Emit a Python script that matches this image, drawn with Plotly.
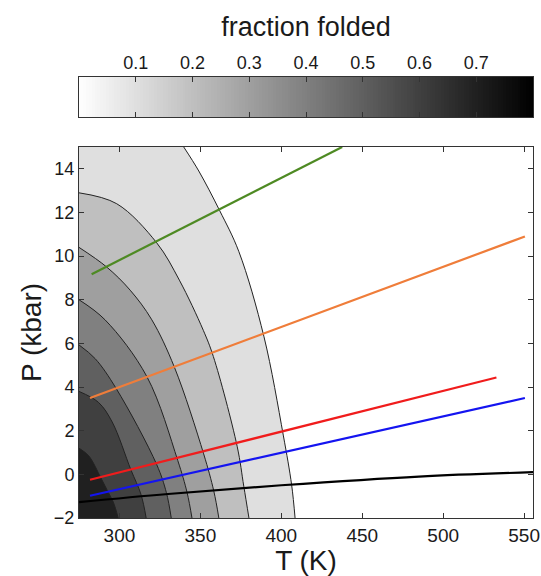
import numpy as np
import plotly.graph_objects as go

# ---- contour levels of the folded fraction and their traced lines (T in K, P in kbar)
levels = [0.1, 0.2, 0.3, 0.4, 0.5, 0.6, 0.7]

c01_T = [339.7, 349.0, 361.8, 373.8, 389.3, 401.2, 406.4, 408.5]
c01_P = [15.0, 13.9, 12.1, 10.2, 6.3, 1.8, -0.5, -2.0]

c02_T = [275.0, 298.3, 323.1, 337.0, 351.8, 358.0, 372.7, 376.8, 380.0]
c02_P = [12.9, 12.4, 10.6, 8.9, 6.6, 5.4, 1.29, -0.54, -2.0]

c03_T = [275.0, 292.1, 306.6, 320.0, 334.0, 352.0, 358.3, 361.4]
c03_P = [10.4, 9.5, 8.44, 7.08, 4.9, 0.94, -0.77, -2.0]

c04_T = [275.0, 291.1, 317.0, 336.0, 341.8, 344.8]
c04_P = [8.0, 7.08, 4.47, 0.64, -0.84, -2.0]

c05_T = [275.0, 285.0, 298.0, 323.0, 329.0, 332.0]
c05_P = [5.93, 5.3, 3.93, 0.45, -0.84, -2.0]

c06_T = [275.0, 287.0, 295.5, 307.0, 313.3, 316.5]
c06_P = [3.8, 3.3, 2.4, 0.22, -0.92, -2.0]

c07_T = [275.0, 281.0, 288.5, 293.2, 296.2, 299.2]
c07_P = [1.2, 0.85, -0.16, -0.84, -1.27, -2.0]

contours_T = [c01_T, c02_T, c03_T, c04_T, c05_T, c06_T, c07_T]
contours_P = [c01_P, c02_P, c03_P, c04_P, c05_P, c06_P, c07_P]

# ---- pressure paths
green_T = [282.8, 437.6]
green_P = [9.17, 15.0]
orange_T = [281.8, 550.5]
orange_P = [3.5, 10.9]
red_T = [281.8, 532.9]
red_P = [-0.25, 4.44]
blue_T = [281.8, 550.5]
blue_P = [-0.98, 3.5]
black_T = [275.0, 330.0, 400.0, 485.0, 555.5]
black_P = [-1.27, -0.9, -0.5, -0.1, 0.10]

# ---- axis ticks
t_ticks = [300, 350, 400, 450, 500, 550]
p_ticks = [-2, 0, 2, 4, 6, 8, 10, 12, 14]
cbar_ticks = [0.1, 0.2, 0.3, 0.4, 0.5, 0.6, 0.7]
cbar_max = 0.8

FONT = "Liberation Sans, Arial, Helvetica, sans-serif"


def shade(value):
    """Reversed gray colour map: 0 -> white, cbar_max -> black."""
    g = int(round(255 * (1 - value / cbar_max)))
    return f"rgb({g},{g},{g})"


fig = go.Figure()

# filled contour bands, outermost first
for lev, cT, cP in zip(levels, contours_T, contours_P):
    fig.add_trace(go.Scatter(
        x=cT, y=cP, mode="lines",
        line=dict(color="#222222", width=1, shape="spline", smoothing=1),
        fill="tozerox", fillcolor=shade(lev),
        hoverinfo="skip", showlegend=False,
        xaxis="x", yaxis="y"))

paths = [
    (green_T, green_P, "#4e8a23", "linear"),
    (orange_T, orange_P, "#ef7d3a", "linear"),
    (red_T, red_P, "#f01c1c", "linear"),
    (blue_T, blue_P, "#1414f0", "linear"),
    (black_T, black_P, "#000000", "spline"),
]
for pT, pP, col, shp in paths:
    fig.add_trace(go.Scatter(
        x=pT, y=pP, mode="lines",
        line=dict(color=col, width=2.2, shape=shp),
        hoverinfo="skip", showlegend=False,
        xaxis="x", yaxis="y"))

# colour bar drawn as a one-row heatmap on its own axes
ramp = np.linspace(0, cbar_max, 161)
fig.add_trace(go.Heatmap(
    x=ramp, y=[0.5], z=[ramp],
    colorscale=[[0, "white"], [1, "black"]],
    zmin=0, zmax=cbar_max, showscale=False, hoverinfo="skip",
    xaxis="x2", yaxis="y2"))

axis_common = dict(
    showgrid=False, zeroline=False, showline=True, linecolor="#333333",
    linewidth=1, mirror="ticks", ticks="inside", ticklen=5,
    tickcolor="#333333", automargin=False,
)

fig.update_layout(
    width=541, height=576,
    margin=dict(l=79, r=8, t=77, b=58),
    paper_bgcolor="white", plot_bgcolor="white",
    font=dict(family=FONT, color="#1a1a1a"),
    xaxis=dict(
        domain=[0, 1], range=[275, 555.5], tickvals=t_ticks,
        tickfont=dict(size=19),
        title=dict(text="T (K)", font=dict(size=28), standoff=0),
        anchor="y", **axis_common),
    yaxis=dict(
        domain=[0, 0.8413], range=[-2, 15], tickvals=p_ticks,
        tickfont=dict(size=18),
        title=dict(text="P (kbar)", font=dict(size=28), standoff=4),
        anchor="x", **axis_common),
    xaxis2=dict(
        domain=[0, 1], range=[0, cbar_max], tickvals=cbar_ticks,
        side="top", tickfont=dict(size=18),
        title=dict(text="fraction folded", font=dict(size=27), standoff=8),
        anchor="y2", **axis_common),
    yaxis2=dict(
        domain=[0.9093, 1], range=[0, 1], showticklabels=False,
        anchor="x2", showgrid=False, zeroline=False, showline=True,
        linecolor="#333333", mirror=True, ticks="", automargin=False),
)

fig.write_html("out.html")
